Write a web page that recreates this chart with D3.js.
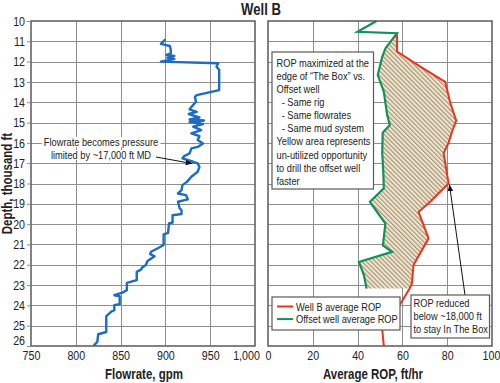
<!DOCTYPE html>
<html><head><meta charset="utf-8">
<script src="https://cdn.jsdelivr.net/npm/d3@7"></script>
<style>
body{margin:0;background:#fff;}
svg{display:block;font-family:"Liberation Sans",Arial,sans-serif;}
</style></head><body><svg id="c" width="500" height="383"></svg>
<script>
// ---------- data ----------
const depthTicks = [10,11,12,13,14,15,16,17,18,19,20,21,22,23,24,25,26];
const flowTicks = [750,800,850,900,950,1000];
const flowTickLabels = ["750","800","850","900","950","1,000"];
const ropTicks = [0,20,40,60,80,100];
const ropTickLabels = ["0","20","40","60","80","100"];

const flowDepth = [10.90,11.13,11.23,11.43,11.60,11.67,11.72,11.80,11.87,12.00,12.08,12.25,12.40,13.40,13.50,13.65,13.73,13.97,14.35,14.47,14.58,14.75,14.85,14.90,14.97,15.07,15.20,15.37,15.53,15.67,15.86,16.03,16.20,16.27,16.52,16.65,16.76,16.93,17.01,17.18,17.42,17.67,17.92,18.08,18.33,18.49,18.57,18.78,18.90,19.23,19.31,19.50,19.56,19.92,19.97,20.43,20.50,21.03,21.20,21.36,21.48,21.58,21.82,22.02,22.13,22.23,22.35,22.76,22.89,23.25,23.37,23.50,23.55,23.94,23.99,24.24,24.29,24.53,25.31,25.42,25.80,25.98];
const flowRate  = [900,895,905,906,906,901,910,902,910,895,959,957,960,960,950,935,933,934,927,935,926,938,927,943,927,942,931,940,929,938,936,942,936,929,927,921,919,931,936,938,936,929,924,919,918,914,923,925,914,916,918,918,908,908,904,903,898,898,891,884,883,888,880,878,874,873,868,868,857,857,852,843,849,849,843,843,840,834,834,825,824,820];

const offsetDepth = [10.0,10.53,10.6,11.35,11.76,12.66,13.48,14.63,15.12,15.5,16.5,17.5,18.24,18.9,19.97,21.05,21.36,21.86,22.51,23.17];
const offsetRop   = [48.4,40.0,57.6,52.4,51.0,49.0,51.7,53.2,54.4,51.2,51.0,51.5,51.7,45.5,52.4,51.3,55.4,40.6,42.8,44.0];

const wellBDepth = [10.65,11.5,12.25,13.0,14.0,14.9,15.5,16.0,16.5,18.0,18.9,19.4,20.7,22.0,22.95,23.17,23.8,25.2,26.0];
const wellBRop   = [57.6,57.6,68.0,79.1,81.3,84.0,82.0,80.6,78.4,80.6,72.4,67.2,71.7,65.0,64.2,63.2,59.8,51.0,51.7];

const boxText = ["ROP maximized at the","edge of \u201cThe Box\u201d vs.","Offset well","  - Same rig","  - Same flowrates","  - Same mud system","Yellow area represents","un-utilized opportunity","to drill the offset well","faster"];
const box2Text = ["ROP reduced","below ~18,000 ft","to stay In The Box"];
const flowNote = ["Flowrate becomes pressure","limited by ~17,000 ft MD"];
const legendItems = [{name:"Well B average ROP",color:"#f2301c"},{name:"Offset well average ROP",color:"#12915a"}];

// ---------- layout ----------
const SX = 0.82; // condensed look
const svg = d3.select("#c");
const yTop = 21, yBot = 346;
const L = {x0:31, x1:255}, R = {x0:268, x1:492};
const y = d3.scaleLinear().domain([10,26]).range([yTop,yBot]);
const xF = d3.scaleLinear().domain([750,1000]).range([L.x0,L.x1]);
const xR = d3.scaleLinear().domain([0,100]).range([R.x0,R.x1]);
const gridC = "#8e8e8e", frameC = "#5a5a5a", txtC = "#222";

function T(parent, x, yy, txt, size, o={}){
  const t = parent.append("text").attr("transform",`translate(${x},${yy})${o.rot?" rotate(-90)":""} scale(${SX},1)`)
    .attr("font-size",size).attr("fill",txtC).text(txt);
  if(o.anchor) t.attr("text-anchor",o.anchor);
  if(o.bold) t.attr("font-weight","bold");
  if(o.pre) t.style("white-space","pre");
  return t;
}

// hatch pattern
const defs = svg.append("defs");
const pat = defs.append("pattern").attr("id","hatch").attr("patternUnits","userSpaceOnUse")
  .attr("width",3.2).attr("height",3.2).attr("patternTransform","rotate(-45)");
pat.append("rect").attr("width",3.2).attr("height",3.2).attr("fill","#f2e4c8");
pat.append("rect").attr("width",1.1).attr("height",3.2).attr("fill","#9c927f");
const arrow = defs.append("marker").attr("id","arr").attr("viewBox","0 0 10 10").attr("refX",9).attr("refY",5)
  .attr("markerWidth",7).attr("markerHeight",7).attr("orient","auto").attr("markerUnits","userSpaceOnUse");
arrow.append("path").attr("d","M0,1 L10,5 L0,9 z").attr("fill","#111");

// gridlines
function grid(xs, xTicks, x0, x1){
  const g = svg.append("g").attr("stroke",gridC).attr("stroke-width",1);
  g.selectAll("line.h").data(depthTicks.slice(1,-1)).join("line")
    .attr("x1",x0).attr("x2",x1).attr("y1",d=>Math.round(y(d))+0.5).attr("y2",d=>Math.round(y(d))+0.5);
  g.selectAll("line.v").data(xTicks.slice(1,-1)).join("line")
    .attr("y1",yTop).attr("y2",yBot).attr("x1",d=>Math.round(xs(d))+0.5).attr("x2",d=>Math.round(xs(d))+0.5);
}
grid(xF, flowTicks, L.x0, L.x1);
grid(xR, ropTicks, R.x0, R.x1);

// hatched area between curves
const gPts = offsetDepth.map((d,i)=>[offsetRop[i],d]).filter(p=>p[1]>=10.6);
const rPts = wellBDepth.map((d,i)=>[wellBRop[i],d]).filter(p=>p[1]<=23.17);
const poly = gPts.concat(rPts.slice().reverse());
svg.append("path").attr("d", d3.line().x(p=>xR(p[0])).y(p=>y(p[1]))(poly)+"Z")
  .attr("fill","url(#hatch)").attr("stroke","none");

// lines
const lineF = d3.line().x((d,i)=>xF(flowRate[i])).y(d=>y(d));
svg.append("path").attr("d",lineF(flowDepth)).attr("fill","none").attr("stroke","#1b6cc2").attr("stroke-width",2.4).attr("stroke-linejoin","round");
const lineR = arr => d3.line().x((d,i)=>xR(arr[i])).y(d=>y(d));
svg.append("path").attr("d",lineR(wellBRop)(wellBDepth)).attr("fill","none").attr("stroke",legendItems[0].color).attr("stroke-width",2);
svg.append("path").attr("d",lineR(offsetRop)(offsetDepth)).attr("fill","none").attr("stroke",legendItems[1].color).attr("stroke-width",2.2);

// frames
[L,R].forEach(p=>svg.append("rect").attr("x",p.x0).attr("y",yTop).attr("width",p.x1-p.x0).attr("height",yBot-yTop)
  .attr("fill","none").attr("stroke",frameC).attr("stroke-width",1.5));

// axes
const yAx = svg.append("g").attr("transform",`translate(${L.x0},0)`).attr("font-family",null)
  .call(d3.axisLeft(y).tickValues(depthTicks).tickFormat(d3.format("d")).tickSize(4).tickPadding(2));
yAx.attr("font-family",null).attr("font-size",null);
yAx.select(".domain").remove();
yAx.selectAll("line").attr("stroke",gridC);
yAx.selectAll("text").attr("font-size",13).attr("fill",txtC)
  .attr("transform","scale("+SX+",1)").attr("x",-6/SX)
  .attr("dy",(d,i)=> i===depthTicks.length-1 ? "-0.08em" : "0.32em");

function xAxis(sc, ticks, labels, shift){
  const g = svg.append("g").attr("transform",`translate(0,${yBot})`)
    .call(d3.axisBottom(sc).tickValues(ticks).tickFormat((d,i)=>labels[i]).tickSize(0).tickPadding(5));
  g.attr("font-family",null).attr("font-size",null);
  g.select(".domain").remove();
  g.selectAll("text").attr("font-size",13).attr("fill",txtC)
    .attr("transform","scale("+SX+",1)")
    .attr("x",(d,i)=> (i===ticks.length-1 ? shift : 0)/SX);
}
xAxis(xF, flowTicks, flowTickLabels, -9);
xAxis(xR, ropTicks, ropTickLabels, -1);

// titles
T(svg, 261, 15, "Well B", 16, {anchor:"middle", bold:true});
T(svg, 144, 379, "Flowrate, gpm", 14, {anchor:"middle", bold:true});
T(svg, 373, 379, "Average ROP, ft/hr", 14, {anchor:"middle", bold:true});
T(svg, 12, (yTop+yBot)/2, "Depth, thousand ft", 14, {anchor:"middle", bold:true, rot:true});

// left annotation
const fn = svg.append("g");
flowNote.forEach((t,i)=>{
  const x0 = 101, y0 = 146 + i*12.8;
  const tx = T(fn, x0, y0, t, 11.3, {anchor:"middle"});
  const b = tx.node().getBBox();
  fn.insert("rect","text").attr("x",x0+b.x*SX-2).attr("y",y0+b.y+1).attr("width",b.width*SX+4).attr("height",b.height-2).attr("fill","#fff");
});
svg.append("line").attr("x1",156).attr("y1",157).attr("x2",192).attr("y2",163.5).attr("stroke","#111").attr("stroke-width",1).attr("marker-end","url(#arr)");

// box 1
svg.append("rect").attr("x",272).attr("y",52).attr("width",101.5).attr("height",137).attr("fill","#fff").attr("stroke",frameC).attr("stroke-width",1.2);
boxText.forEach((t,i)=>T(svg, 276.5, 66.8+i*13.1, t, 11.3, {pre:true}));

// box 2 + arrow
svg.append("line").attr("x1",465).attr("y1",295).attr("x2",449.5).attr("y2",185).attr("stroke","#111").attr("stroke-width",1).attr("marker-end","url(#arr)");
svg.append("rect").attr("x",411).attr("y",295).attr("width",78.5).attr("height",43).attr("fill","#fff").attr("stroke",frameC).attr("stroke-width",1.2);
box2Text.forEach((t,i)=>T(svg, 413.5, 307.3+i*12.8, t, 11.3));

// legend
svg.append("rect").attr("x",272).attr("y",297).attr("width",128).attr("height",33).attr("fill","#fff").attr("stroke",frameC).attr("stroke-width",1.2);
legendItems.forEach((it,i)=>{
  const yy = 306.5+i*12.6;
  svg.append("line").attr("x1",277).attr("x2",293).attr("y1",yy).attr("y2",yy).attr("stroke",it.color).attr("stroke-width",2);
  T(svg, 296, yy+4, it.name, 11.3);
});
</script></body></html>
